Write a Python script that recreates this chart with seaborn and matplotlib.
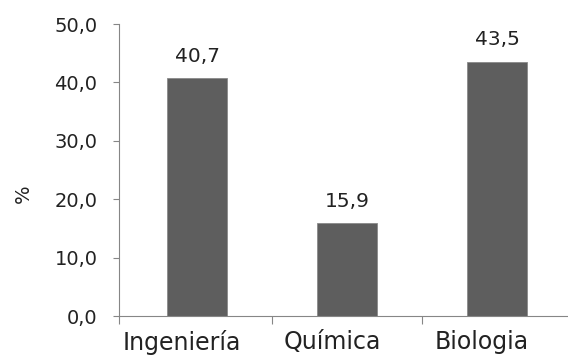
import matplotlib
matplotlib.use("Agg")
import matplotlib.pyplot as plt
import matplotlib.transforms as mtransforms
from matplotlib.ticker import FuncFormatter, FixedLocator
import pandas as pd
import seaborn as sns

carreras = ["Ingeniería", "Química", "Biologia"]
porcentajes = [40.7, 15.9, 43.5]

df = pd.DataFrame({"carrera": carreras, "pct": porcentajes})

sns.set_style("white")
plt.rcParams['font.family'] = ['DejaVu Sans']

fig = plt.figure(figsize=(5.68, 3.59), dpi=100)
ax = fig.add_axes([119 / 568, 43 / 359, 453 / 568, 292 / 359])

sns.barplot(data=df, x="carrera", y="pct", color="#5e5e5e", saturation=1,
            width=0.4, edgecolor="#8a8a8a", linewidth=0.6, ax=ax)

for c in ax.containers:
    ax.bar_label(c, labels=[f"{v:.1f}".replace(".", ",") for v in porcentajes],
                 padding=9, fontsize=14.5, color="#222222")

ax.set_ylim(0, 50)
ax.set_xlim(-0.52, 2.5)
ax.set_yticks([0, 10, 20, 30, 40, 50])
ax.yaxis.set_major_formatter(FuncFormatter(lambda v, p: f"{v:.1f}".replace(".", ",")))
ax.set_xlabel("")
ax.set_ylabel("%", fontsize=14, color="#222222")
ax.yaxis.set_label_coords(-0.19, 0.418)

ax.xaxis.set_minor_locator(FixedLocator([-0.52, 0.5, 1.5]))
ax.tick_params(axis="x", which="major", length=0, labelsize=17, colors="#222222", pad=10)
ax.tick_params(axis="x", which="minor", length=6, width=0.8, color="#868686",
               direction="out", bottom=True)
ax.tick_params(axis="y", length=4.5, width=0.8, color="#868686", labelsize=14,
               labelcolor="#222222", direction="out", pad=11, left=True)

# las etiquetas del eje x quedan algo a la izquierda en el original
shift = mtransforms.ScaledTranslation(-0.15, 0, fig.dpi_scale_trans)
for lab in ax.get_xticklabels():
    lab.set_transform(lab.get_transform() + shift)

sns.despine(ax=ax)
for s in ["left", "bottom"]:
    ax.spines[s].set_color("#868686")
    ax.spines[s].set_linewidth(0.8)

fig.savefig("out.png", dpi=100)
